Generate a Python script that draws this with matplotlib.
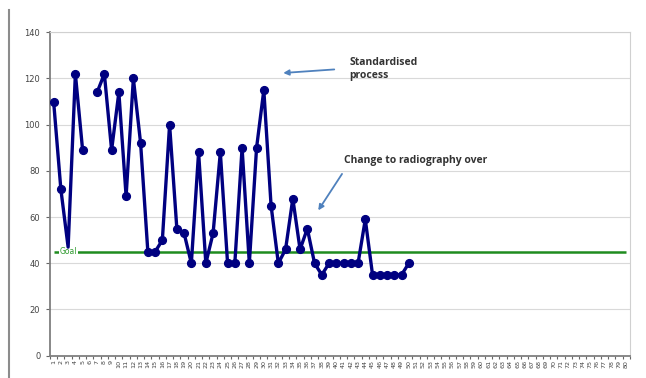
import numpy as np
import matplotlib.pyplot as plt
from matplotlib.lines import Line2D

# weekly waiting-time values, categories 1..80 (only the first 50 recorded)
categories = np.arange(1, 81)
values = [110, 72, 47, 122, 89, np.nan, 114, 122, 89, 114,
          69, 120, 92, 45, 45, 50, 100, 55, 53, 40,
          88, 40, 53, 88, 40, 40, 90, 40, 90, 115,
          65, 40, 46, 68, 46, 55, 40, 35, 40, 40,
          40, 40, 40, 59, 35, 35, 35, 35, 35, 40]
no_marker = [3]  # category plotted as a bare vertex
goal = 45
y_ticks = [0, 20, 40, 60, 80, 100, 120, 140]

fig = plt.figure(figsize=(6.46, 3.78), dpi=100)
ax = fig.add_axes([0.0774, 0.059, 0.8976, 0.8556])

x = categories[:len(values)]
y = np.array(values, dtype=float)
ax.plot(x, y, color="#000080", linewidth=2.4, zorder=3)
mask = ~np.isin(x, no_marker) & ~np.isnan(y)
ax.plot(x[mask], y[mask], linestyle="none", marker="o", markersize=5.6,
        color="#000080", zorder=4)

ax.hlines(goal, 1, 80, color="#1f8c1f", linewidth=1.8, zorder=2)
ax.text(3.1, goal, "Goal", color="#2e9a2e", fontsize=5.5, ha="center", va="center",
        bbox=dict(facecolor="white", edgecolor="none", pad=0.6), zorder=2.5)

ax.set_xlim(0.5, 80.5)
ax.set_ylim(0, 140)
ax.set_yticks(y_ticks)
ax.set_xticks(categories)
ax.set_xticklabels([str(c) for c in categories], rotation=90, fontsize=4.6,
                   color="#444444")
ax.set_xticks(np.arange(0.5, 81, 1), minor=True)
ax.tick_params(axis="x", which="major", length=0, pad=3)
ax.tick_params(axis="x", which="minor", length=2.5, width=0.8, color="#666666")
ax.tick_params(axis="y", length=3, width=0.8, color="#666666", labelsize=6,
               labelcolor="#444444", pad=4)
ax.grid(axis="y", color="#d9d9d9", linewidth=0.8, zorder=0)
ax.set_axisbelow(True)

for side in ("left", "bottom"):
    ax.spines[side].set_color("#7f7f7f")
    ax.spines[side].set_linewidth(1.3)
for side in ("top", "right"):
    ax.spines[side].set_color("#d0d0d0")
    ax.spines[side].set_linewidth(0.8)

# annotations
arrow_kw = dict(arrowstyle="-|>", color="#4f81bd", lw=1.3, mutation_scale=8)
ax.annotate("", xy=(32.3, 122.3), xytext=(40.1, 124.0), arrowprops=arrow_kw)
ax.text(41.8, 124.2, "Standardised\nprocess", fontsize=7.5, fontweight="bold",
        color="#333333", ha="left", va="center", linespacing=1.25,
        family="Open Sans")
ax.annotate("", xy=(37.3, 61.9), xytext=(41.0, 79.7), arrowprops=arrow_kw)
ax.text(41.1, 84.5, "Change to radiography over", fontsize=7.5, fontweight="bold",
        color="#333333", ha="left", va="center", family="Open Sans")

# thin divider on the left edge
fig.add_artist(Line2D([9 / 646, 9 / 646], [0, 1 - 10 / 378], color="#8c8c8c",
                      linewidth=1.5, transform=fig.transFigure))

fig.savefig("out.png", dpi=100)
